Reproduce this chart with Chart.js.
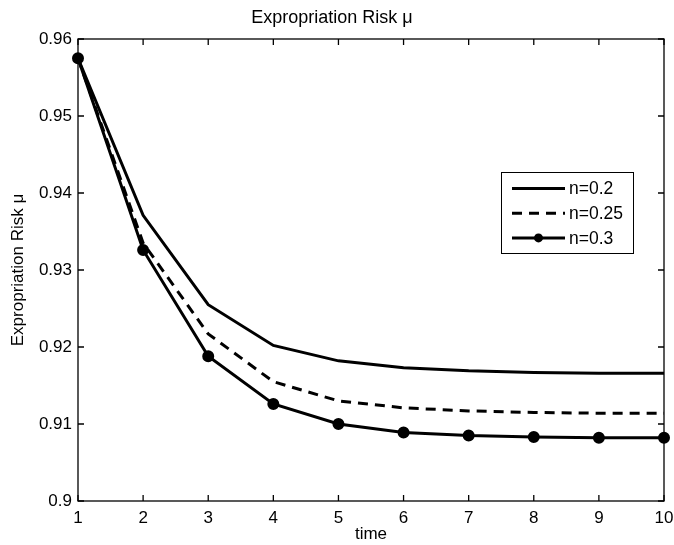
<!DOCTYPE html>
<html lang="en">
<head>
    <meta charset="UTF-8">
    <title>Expropriation Risk</title>
    <script src="https://cdn.jsdelivr.net/npm/chart.js"></script>
    <style>
        html, body { margin: 0; padding: 0; background: #fff; }
        #wrap { width: 674px; height: 545px; }
    </style>
</head>
<body>
    <div id="wrap"><canvas id="riskChart"></canvas></div>

    <script>
// valores
const times = [1, 2, 3, 4, 5, 6, 7, 8, 9, 10];
const riskN02  = [0.9575, 0.9371, 0.9255, 0.9202, 0.9182, 0.9173, 0.9169, 0.9167, 0.9166, 0.9166];
const riskN025 = [0.9575, 0.9335, 0.9217, 0.9155, 0.9130, 0.9121, 0.9117, 0.9115, 0.9114, 0.9114];
const riskN03  = [0.9575, 0.9326, 0.9188, 0.9126, 0.9100, 0.9089, 0.9085, 0.9083, 0.9082, 0.9082];
const seriesLabels = ['n=0.2', 'n=0.25', 'n=0.3'];

const FONT = 'Liberation Sans, Arial, Helvetica, sans-serif';

function toPoints(values) {
    return times.map((t, i) => ({ x: t, y: values[i] }));
}

// moldura estilo MATLAB com marcas para dentro nos quatro lados
const framePlugin = {
    id: 'frame',
    beforeDatasetsDraw(chart) {
        const { ctx, chartArea: a, scales } = chart;
        const tl = 6;
        ctx.save();
        ctx.strokeStyle = '#000';
        ctx.lineWidth = 1.3;
        ctx.strokeRect(a.left, a.top, a.right - a.left, a.bottom - a.top);
        ctx.beginPath();
        scales.x.ticks.forEach(t => {
            const px = scales.x.getPixelForValue(t.value);
            ctx.moveTo(px, a.bottom); ctx.lineTo(px, a.bottom - tl);
            ctx.moveTo(px, a.top); ctx.lineTo(px, a.top + tl);
        });
        scales.y.ticks.forEach(t => {
            const py = scales.y.getPixelForValue(t.value);
            ctx.moveTo(a.left, py); ctx.lineTo(a.left + tl, py);
            ctx.moveTo(a.right, py); ctx.lineTo(a.right - tl, py);
        });
        ctx.stroke();
        ctx.restore();
    }
};

// legenda em caixa dentro da área do gráfico
const boxLegendPlugin = {
    id: 'boxLegend',
    afterDraw(chart) {
        const { ctx, chartArea: a } = chart;
        const left = a.right - 163, top = a.top + 133, w = 132, h = 81;
        ctx.save();
        ctx.fillStyle = '#fff';
        ctx.fillRect(left, top, w, h);
        ctx.strokeStyle = '#000';
        ctx.lineWidth = 1;
        ctx.strokeRect(left + 0.5, top + 0.5, w, h);
        ctx.font = '17.5px ' + FONT;
        ctx.textBaseline = 'middle';
        chart.data.datasets.forEach((ds, i) => {
            const y = top + 16.5 + i * 24.7;
            ctx.strokeStyle = '#000';
            ctx.lineWidth = ds.borderWidth;
            ctx.setLineDash(ds.borderDash || []);
            ctx.beginPath();
            ctx.moveTo(left + 11, y);
            ctx.lineTo(left + 64, y);
            ctx.stroke();
            ctx.setLineDash([]);
            if (ds.pointRadius > 0) {
                ctx.fillStyle = '#000';
                ctx.beginPath();
                ctx.arc(left + 37.5, y, ds.pointRadius, 0, Math.PI * 2);
                ctx.fill();
            }
            ctx.fillStyle = '#000';
            ctx.fillText(ds.label, left + 68, y + 1);
        });
        ctx.restore();
    }
};

new Chart(document.getElementById('riskChart'), {
    type: 'line',
    data: {
        datasets: [
            { label: seriesLabels[0], data: toPoints(riskN02), borderColor: '#000', borderWidth: 3, pointRadius: 0, clip: false },
            { label: seriesLabels[1], data: toPoints(riskN025), borderColor: '#000', borderWidth: 3, borderDash: [10, 7], pointRadius: 0, clip: false },
            { label: seriesLabels[2], data: toPoints(riskN03), borderColor: '#000', backgroundColor: '#000', borderWidth: 3, pointRadius: 4.5, pointHoverRadius: 4.5, clip: false }
        ]
    },
    options: {
        responsive: true,
        maintainAspectRatio: false,
        animation: false,
        layout: { padding: { top: 0, right: 10, left: 0, bottom: 0 } },
        plugins: {
            legend: { display: false },
            tooltip: { enabled: false },
            title: {
                display: true,
                text: 'Expropriation Risk μ',
                color: '#000',
                font: { family: FONT, size: 18, weight: 'normal' },
                padding: { top: 7.5, bottom: 9.9 }
            }
        },
        scales: {
            x: {
                type: 'linear',
                min: 1,
                max: 10,
                grid: { display: false, drawTicks: false },
                border: { display: false },
                ticks: { stepSize: 1, color: '#000', padding: 7, font: { family: FONT, size: 17 } },
                title: { display: true, text: 'time', color: '#000', padding: { top: -1, bottom: 0 }, font: { family: FONT, size: 17 } },
                afterFit(scale) {
                    scale.height = 44;
                    scale.paddingLeft = 0;
                    scale.paddingRight = 0;
                }
            },
            y: {
                min: 0.9,
                max: 0.96,
                grid: { display: false, drawTicks: false },
                border: { display: false },
                ticks: {
                    stepSize: 0.01,
                    color: '#000',
                    padding: 6,
                    font: { family: FONT, size: 17 },
                    callback: v => String(+v.toFixed(2))
                },
                title: { display: true, text: 'Expropriation Risk μ', color: '#000', padding: { top: 8, bottom: 0 }, font: { family: FONT, size: 17 } },
                afterFit(scale) {
                    scale.width = 78;
                    scale.paddingTop = 0;
                    scale.paddingBottom = 0;
                }
            }
        }
    },
    plugins: [framePlugin, boxLegendPlugin]
});
    </script>
</body>
</html>
